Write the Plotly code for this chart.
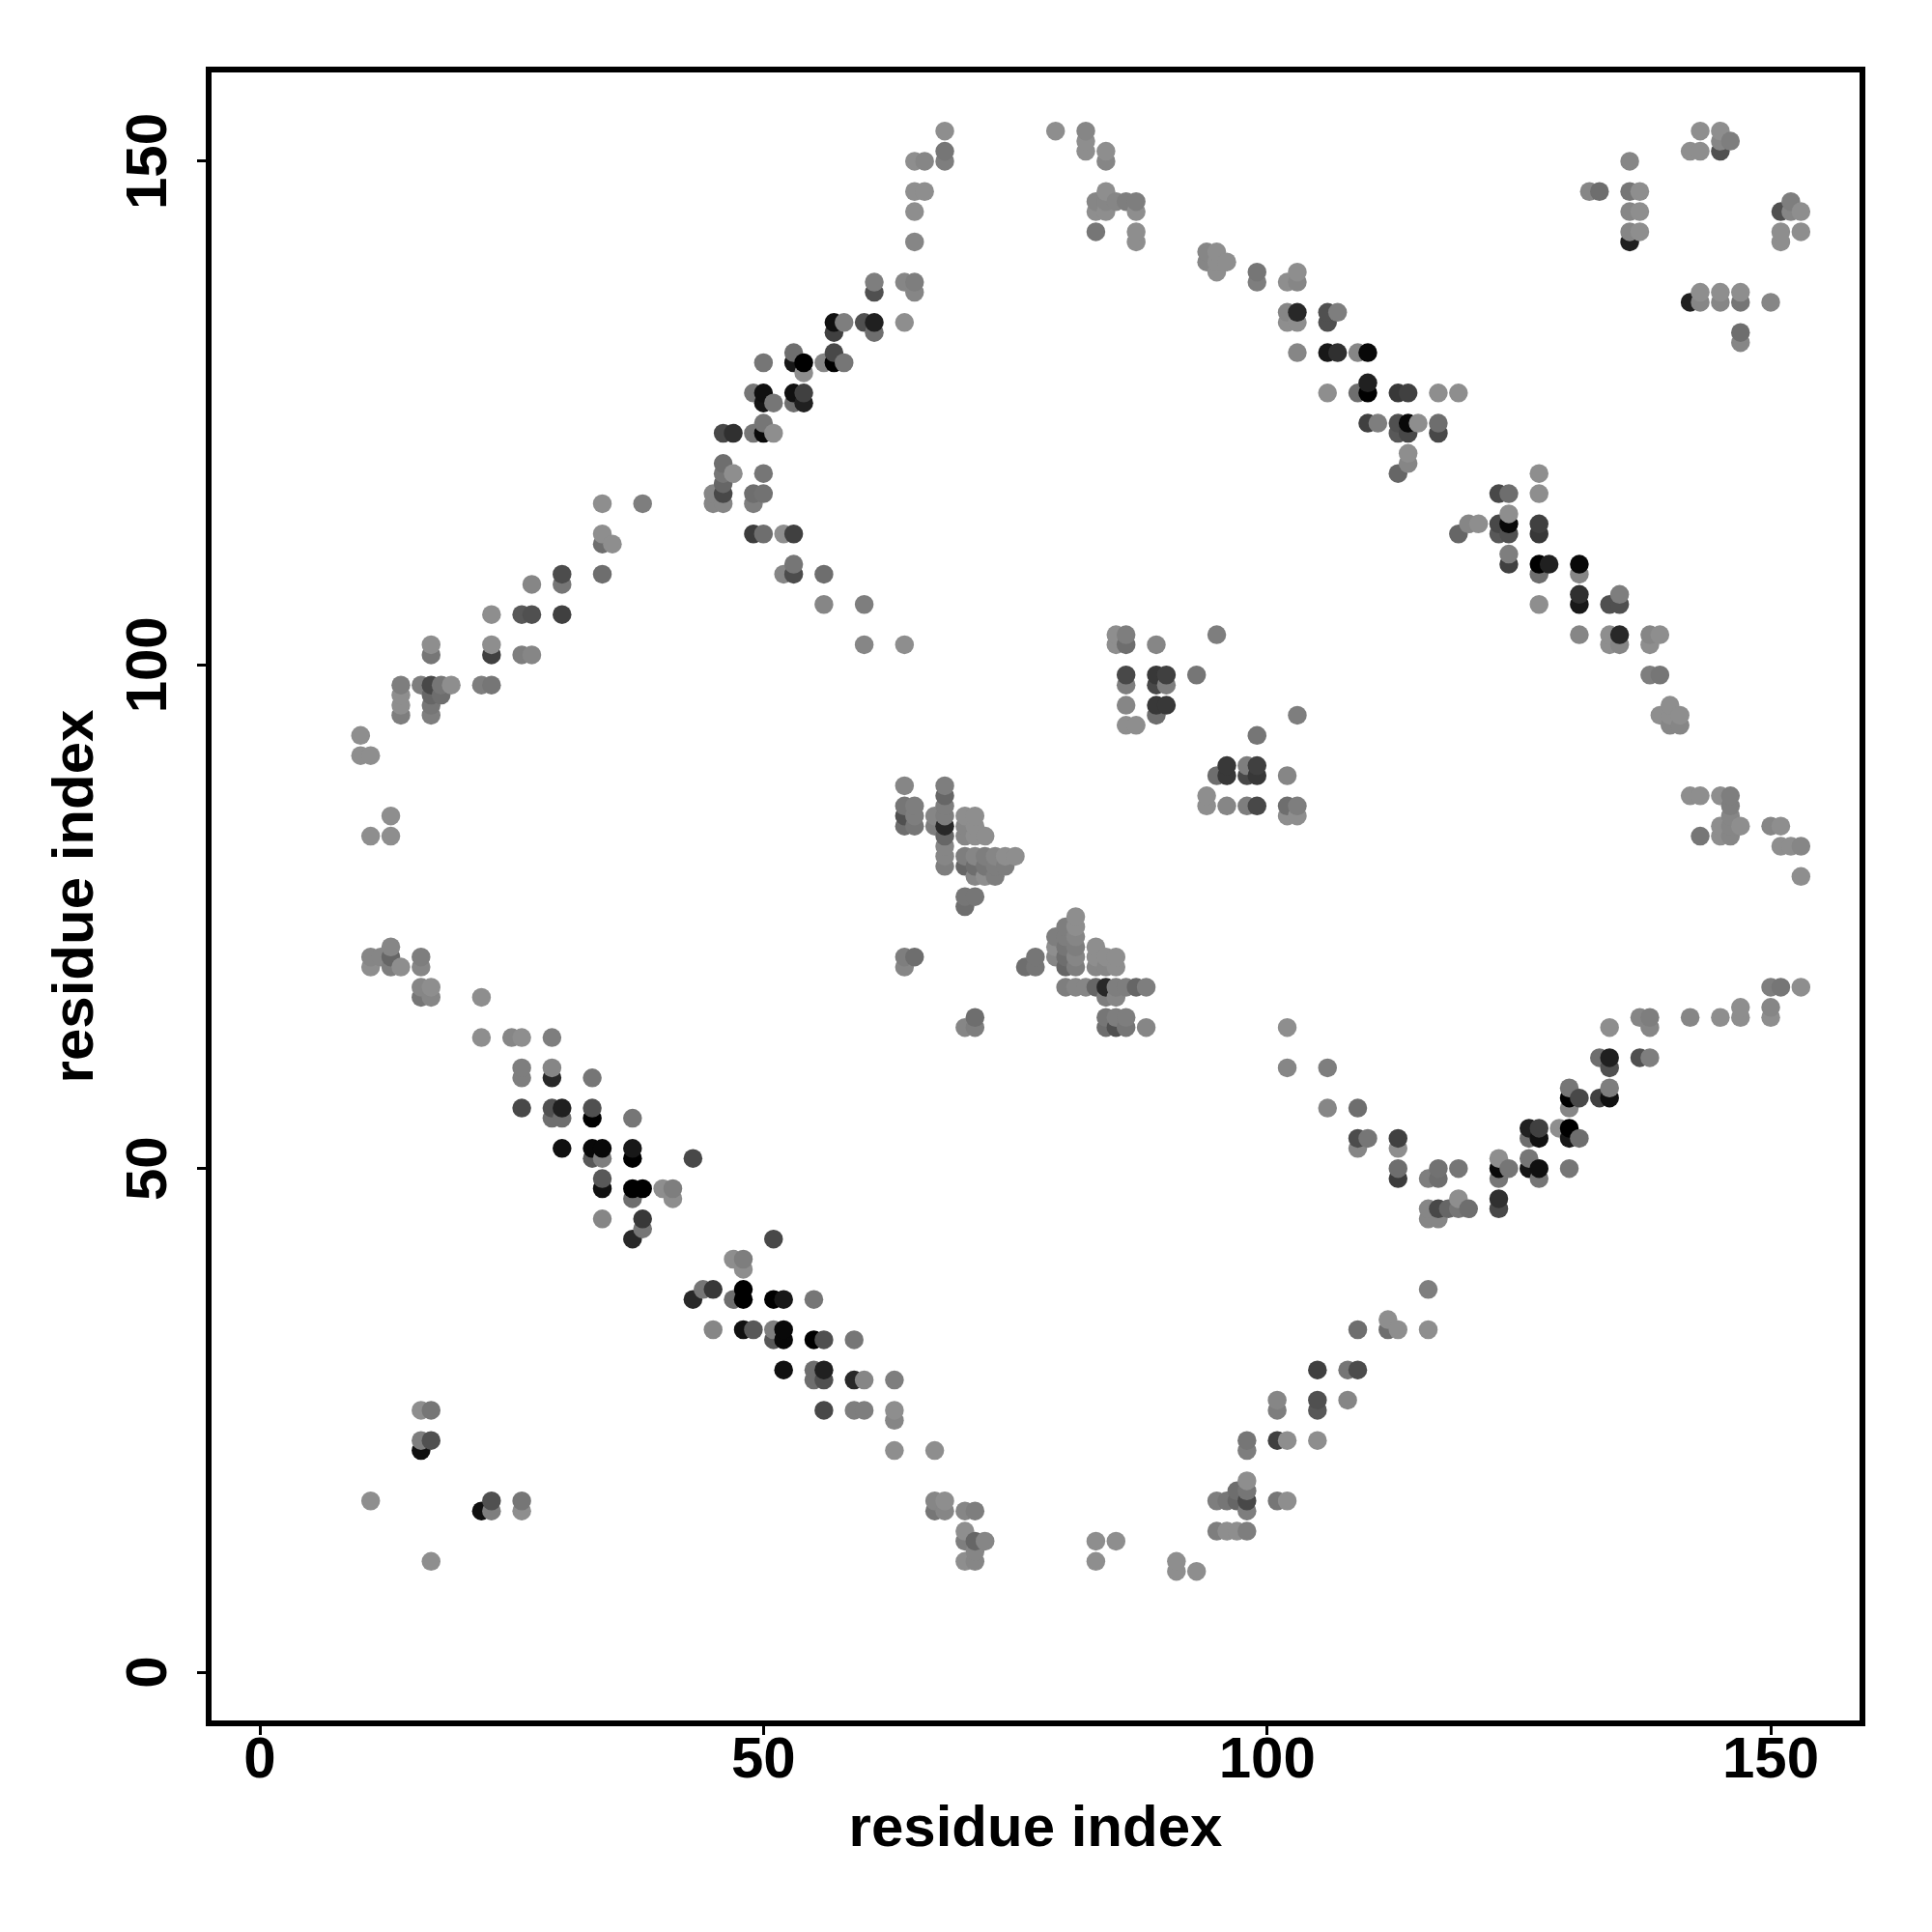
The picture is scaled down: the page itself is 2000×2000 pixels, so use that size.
import plotly.graph_objects as go

# Contacts, one (i, j) pair per position, i < j.
# The map is symmetric, so each contact is plotted at (i, j) and (j, i).
residue_i = [
 11,16,16,17,16,17,
 10,10,11,13,11,13,13,11,12,13,16,11,13,14,16,16,17,16,17,22,
 22,25,26,29,26,26,29,29,33,26,29,30,29,30,33,33,37,30,33,34,37,33,34,37,43,34,34,37,38,40,41,37,41,34,38,38,37,
 17,17,23,23,26,27,14,16,17,18,19,22,23,14,17,18,14,17,14,17,23,26,27,30,27,30,30,34,34,35,34,34,38,
 46,46,47,50,46,46,45,45,46,49,50,49,49,50,52,53,53,53,52,56,56,60,60,64,
 46,47,49,50,50,51,49,50,50,51,53,53,54,54,50,53,53,54,54,56,57,57,58,57,58,57,60,61,61,64,61,61,64,65,65,65,65,65,66,65,66,68,68,68,
 79,82,82,82,84,84,84,83,84,85,86,87,83,84,87,83,87,87,
 94,95,94,95,96,95,99,99,103,102,103,102,103,102,103,106,107,106,103,106,107,109,110,106,109,110,110,110,111,113,114,117,119,113,114,115,117,117,113,114,114,114,113,
 136,132,133,136,137,136,137,136,137,136,143,145,146,145,145,142,143,
 85,86,85,86,89,95,86,86,89,90,89,90,86,89,90,89,86,87,93,
 64,64,65,64,65,64,65,68,68,68,68,67,67,68,68,68,68,68,70,71,70,71,70,71,72,70,71,72,73,74,75,70,71,72,73,74,71,72,73,70,71,70,64,65,64,
]
residue_j = [
 17,22,23,23,26,26,
 93,91,91,85,83,83,72,71,71,71,71,70,70,70,70,68,68,67,67,67,
 63,63,63,63,60,59,60,59,59,56,56,56,55,55,56,55,55,52,52,52,52,51,51,51,51,49,48,48,48,48,48,47,47,45,45,44,43,
 102,101,102,101,101,101,98,98,98,98,98,98,98,97,97,97,96,96,95,95,105,105,105,105,108,108,109,109,112,112,113,116,116,
 120,119,119,119,118,117,117,116,116,117,117,116,113,113,113,113,110,109,109,109,106,106,102,102,
 123,123,123,123,124,123,127,127,126,126,127,126,127,126,130,131,130,130,129,130,130,131,130,134,134,133,134,134,133,134,138,137,138,138,137,142,145,147,147,150,150,150,151,153,
 153,153,152,151,151,150,147,146,146,146,146,146,145,145,145,143,143,142,
 141,141,140,140,140,139,139,138,139,138,138,135,135,134,134,135,135,134,131,131,131,131,131,127,127,128,127,124,124,127,127,127,127,124,124,124,124,123,123,123,121,120,119,
 150,147,147,147,147,145,145,143,143,142,153,153,152,152,151,151,151,
 103,103,102,102,102,103,99,98,99,99,98,98,96,96,96,95,94,94,99,
 88,86,86,85,85,84,84,88,87,86,85,85,84,84,83,82,81,80,85,85,84,84,83,83,83,81,81,81,81,81,81,80,80,80,80,80,79,79,79,77,77,76,71,71,70,
]
shade = [
 0x88,0x10,0x78,0x50,0x88,0x70,
 0x88,0x88,0x88,0x88,0x88,0x88,0x80,0x80,0x80,0x60,0x78,0x88,0x78,0x88,0x80,0x80,0x88,0x70,0x80,0x88,
 0x88,0x80,0x88,0x78,0x78,0x78,0x80,0x28,0x70,0x48,0x50,0x20,0x68,0x68,0x50,0x00,0x70,0x10,0x08,0x08,0x18,0x58,0x78,0x00,0x48,0x58,0x10,0x00,0x00,0x88,0x78,0x68,0x88,0x80,0x38,0x70,0x28,
 0x88,0x70,0x88,0x40,0x78,0x80,0x78,0x78,0x48,0x70,0x88,0x78,0x70,0x88,0x60,0x68,0x88,0x70,0x78,0x78,0x88,0x58,0x50,0x40,0x80,0x70,0x4c,0x68,0x68,0x88,0x88,0x88,0x78,
 0x68,0x70,0x88,0x70,0x60,0x48,0x80,0x80,0x80,0x68,0x6c,0x78,0x3c,0x68,0x88,0x40,0x70,0x4c,0x80,0x68,0x80,0x78,0x80,0x88,
 0x48,0x30,0x70,0x0a,0x70,0x88,0x70,0x10,0x15,0x70,0x10,0x68,0x40,0x20,0x70,0x68,0x18,0x00,0x88,0x80,0x00,0x48,0x70,0x10,0x78,0x40,0x50,0x20,0x68,0x88,0x78,0x50,0x80,0x78,0x80,0x80,0x88,0x88,0x88,0x88,0x80,0x78,0x70,0x88,
 0x88,0x80,0x88,0x88,0x88,0x80,0x88,0x80,0x80,0x80,0x78,0x78,0x88,0x88,0x88,0x70,0x88,0x88,
 0x80,0x88,0x80,0x88,0x88,0x88,0x70,0x78,0x88,0x88,0x80,0x80,0x28,0x88,0x88,0x50,0x78,0x50,0x80,0x18,0x30,0x80,0x08,0x88,0x68,0x20,0x00,0x40,0x78,0x38,0x40,0x88,0x88,0x50,0x08,0x88,0x68,0x48,0x58,0x48,0x88,0x80,0x60,
 0x80,0x80,0x68,0x70,0x88,0x80,0x88,0x80,0x88,0x20,0x88,0x88,0x78,0x80,0x50,0x88,0x88,
 0x88,0x78,0x88,0x68,0x80,0x78,0x48,0x78,0x38,0x40,0x48,0x78,0x80,0x38,0x38,0x68,0x88,0x88,0x70,
 0x80,0x70,0x78,0x50,0x78,0x68,0x70,0x78,0x60,0x78,0x78,0x80,0x78,0x28,0x60,0x80,0x80,0x78,0x88,0x88,0x80,0x88,0x80,0x88,0x88,0x78,0x80,0x78,0x80,0x88,0x88,0x60,0x68,0x70,0x78,0x78,0x80,0x88,0x78,0x70,0x70,0x68,0x78,0x68,0x80,
]
tick_values = [0, 50, 100, 150]
axis_title = "residue index"
assert len(residue_i) == len(residue_j) == len(shade), (len(residue_i), len(residue_j), len(shade))

# Later points sit on top: ordered by x, then y.
pts = sorted(set(zip(residue_i + residue_j, residue_j + residue_i,
                     shade + shade)), key=lambda p: (p[0], p[1]))
xs = [p[0] for p in pts]
ys = [p[1] for p in pts]
LIGHTEN = 6  # the mid and light greys read slightly dark by eye
colors = []
for p in pts:
    g = p[2] + LIGHTEN if p[2] >= 0x60 else p[2]
    colors.append(f"rgb({g},{g},{g})")

FONT = dict(family="Liberation Sans", size=60, color="black", weight=700)
AXIS = dict(
    range=[-4.795, 158.82], tickmode="array", tickvals=tick_values,
    ticks="outside", ticklen=9, tickwidth=3, tickcolor="black",
    showline=True, linewidth=5.5, linecolor="black", mirror=True,
    showgrid=False, zeroline=False, tickfont=FONT,
)

fig = go.Figure(go.Scatter(
    x=xs, y=ys, mode="markers",
    marker=dict(size=19.5, color=colors, line=dict(width=0)),
    hoverinfo="skip",
))
fig.update_layout(
    width=2000, height=2000, autosize=False,
    margin=dict(l=219, r=75, t=75, b=219, pad=0),
    paper_bgcolor="white", plot_bgcolor="white", showlegend=False,
    xaxis={**AXIS, "ticklabelstandoff": -28,
           "title": dict(text=axis_title, font=FONT, standoff=19)},
    yaxis={**AXIS, "tickangle": -90, "ticklabelstandoff": 8, "ticklabelshift": 9,
           "title": dict(text=axis_title, font=FONT, standoff=4)},
)
fig.write_html("out.html", post_script="document.body.style.margin='0';",
               config={"displayModeBar": False})
